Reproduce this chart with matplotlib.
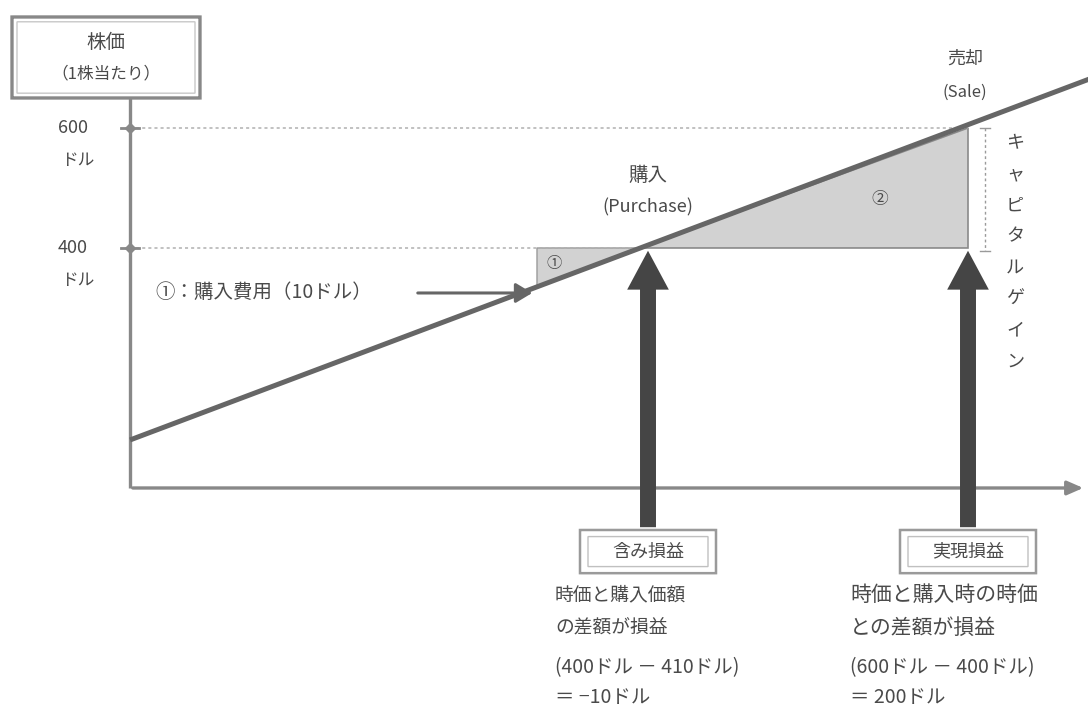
import matplotlib
matplotlib.use("Agg")
import matplotlib.pyplot as plt
from matplotlib.patches import FancyArrowPatch, FancyBboxPatch, Polygon

plt.rcParams['font.family'] = ['Noto Sans CJK JP', 'DejaVu Sans']

# price path (time in arbitrary units, price in dollars)
line_t = [0.0, 9.6]
line_p = [80, 682]
purchase_t, purchase_p = 5.1, 400
sale_t, sale_p = 8.38, 600
cost_start_t = 4.07          # left edge of the purchase-cost triangle
y_ticks = [600, 400]
y_tick_labels = ["600\nドル", "400\nドル"]

LINE = "#666666"
AX = "#888888"
FILL = "#d2d2d2"
ARROW = "#454545"
TXT = "#4a4a4a"


def price_at(t):
    return line_p[0] + (line_p[1] - line_p[0]) * (t - line_t[0]) / (line_t[1] - line_t[0])


fig = plt.figure(figsize=(10.88, 7.14), dpi=100)
ax = fig.add_axes([0, 0, 1, 1])
ax.set_xlim(-1.3, 9.58)
ax.set_ylim(-376.7, 813.3)
ax.axis("off")

# axes drawn by hand with an arrow on x
ax.plot([0, 0], [0, 652], color=AX, lw=2.4, solid_capstyle="butt")
ax.add_patch(FancyArrowPatch((0, 0), (9.56, 0), arrowstyle="-|>,head_length=0.8,head_width=0.35",
                             mutation_scale=12, color=AX, lw=2.4))

# dotted guide lines
ax.plot([0, sale_t], [sale_p, sale_p], color="#b0b0b0", lw=1.1, ls=(0, (2, 2)))
ax.plot([0, purchase_t], [purchase_p, purchase_p], color="#b0b0b0", lw=1.1, ls=(0, (2, 2)))

# tick markers and labels
for v, lab in zip(y_ticks, y_tick_labels):
    num, unit = lab.split("\n")
    ax.plot([-0.09, 0.09], [v, v], color=AX, lw=2)
    ax.plot([0], [v], marker="D", ms=5.5, color=AX)
    ax.text(-0.57, v, num, ha="center", va="center", fontsize=13, color=TXT)
    ax.text(-0.52, v - 55, unit, ha="center", va="center", fontsize=12, color=TXT)

# shaded triangles
ax.add_patch(Polygon([(cost_start_t, purchase_p), (purchase_t, purchase_p),
                      (cost_start_t, price_at(cost_start_t))],
                     closed=True, facecolor=FILL, edgecolor="#9a9a9a", lw=1))
ax.add_patch(Polygon([(purchase_t, purchase_p), (sale_t, sale_p), (sale_t, purchase_p)],
                     closed=True, facecolor=FILL, edgecolor="#8a8a8a", lw=1.2))
ax.text(cost_start_t + 0.17, purchase_p - 26, "①", ha="center", va="center", fontsize=11, color=TXT)
ax.text(7.5, 480, "②", ha="center", va="center", fontsize=12, color=TXT)

# price line
ax.plot(line_t, [price_at(t) for t in line_t], color=LINE, lw=3.6, solid_capstyle="butt")

# capital gain bracket
ax.plot([8.55, 8.55], [sale_p, purchase_p - 5], color="#9a9a9a", lw=1, ls=(0, (2, 2)))
ax.plot([8.5, 8.6], [sale_p, sale_p], color="#9a9a9a", lw=1)
ax.plot([8.5, 8.6], [purchase_p - 5, purchase_p - 5], color="#9a9a9a", lw=1)
for i, ch in enumerate("キャピタルゲイン"):
    ax.text(8.85, 575 - i * 52, ch, ha="center", va="center", fontsize=13, color=TXT)

# labels on the line
ax.text(5.18, 520, "購入", ha="center", va="center", fontsize=14, color=TXT)
ax.text(5.18, 468, "(Purchase)", ha="center", va="center", fontsize=13, color=TXT)
ax.text(8.35, 715, "売却", ha="center", va="center", fontsize=13, color=TXT)
ax.text(8.35, 660, "(Sale)", ha="center", va="center", fontsize=12, color=TXT)

# purchase cost note
ax.text(0.25, 325, "①：購入費用（10ドル）", ha="left", va="center", fontsize=14, color=TXT)
ax.add_patch(FancyArrowPatch((2.85, 325), (4.05, 325), arrowstyle="-|>,head_length=1.0,head_width=0.6",
                             mutation_scale=10, color="#666666", lw=2.2))

# big arrows from the boxes up to the line
for t in (5.18, 8.38):
    ax.add_patch(FancyArrowPatch((t, -70), (t, purchase_p), arrowstyle="simple,head_width=3,head_length=2.8,tail_width=1.15",
                                 mutation_scale=10, color=ARROW, lw=0))

# y axis title box
box = FancyBboxPatch((-1.18, 650), 1.88, 135, boxstyle="round,pad=0,rounding_size=0.06",
                     facecolor="white", edgecolor="#888888", lw=2.4)
ax.add_patch(box)
ax.add_patch(FancyBboxPatch((-1.13, 658), 1.78, 119, boxstyle="round,pad=0,rounding_size=0.05",
                            facecolor="none", edgecolor="#c8c8c8", lw=1))
ax.text(-0.24, 743, "株価", ha="center", va="center", fontsize=14, color=TXT)
ax.text(-0.24, 690, "（1株当たり）", ha="center", va="center", fontsize=12, color=TXT)

# bottom explanation blocks
blocks = [
    (5.18, 4.25, 13.5, "含み損益", ["時価と購入価額", "の差額が損益"], ["(400ドル － 410ドル)", "＝ −10ドル"]),
    (8.38, 7.2, 15, "実現損益", ["時価と購入時の時価", "との差額が損益"], ["(600ドル － 400ドル)", "＝ 200ドル"]),
]
for cx, left, fs, title, desc, calc in blocks:
    ax.add_patch(FancyBboxPatch((cx - 0.68, -142), 1.36, 72, boxstyle="round,pad=0,rounding_size=0.05",
                                facecolor="white", edgecolor="#9a9a9a", lw=1.8))
    ax.add_patch(FancyBboxPatch((cx - 0.6, -131), 1.2, 50, boxstyle="round,pad=0,rounding_size=0.04",
                                facecolor="none", edgecolor="#c0c0c0", lw=1))
    ax.text(cx, -106, title, ha="center", va="center", fontsize=13, color=TXT)
    ax.text(left, -178, desc[0], ha="left", va="center", fontsize=fs, color=TXT)
    ax.text(left, -233, desc[1], ha="left", va="center", fontsize=fs, color=TXT)
    ax.text(left, -300, calc[0], ha="left", va="center", fontsize=14, color=TXT)
    ax.text(left, -350, calc[1], ha="left", va="center", fontsize=14, color=TXT)

fig.savefig("out.png", dpi=100)
